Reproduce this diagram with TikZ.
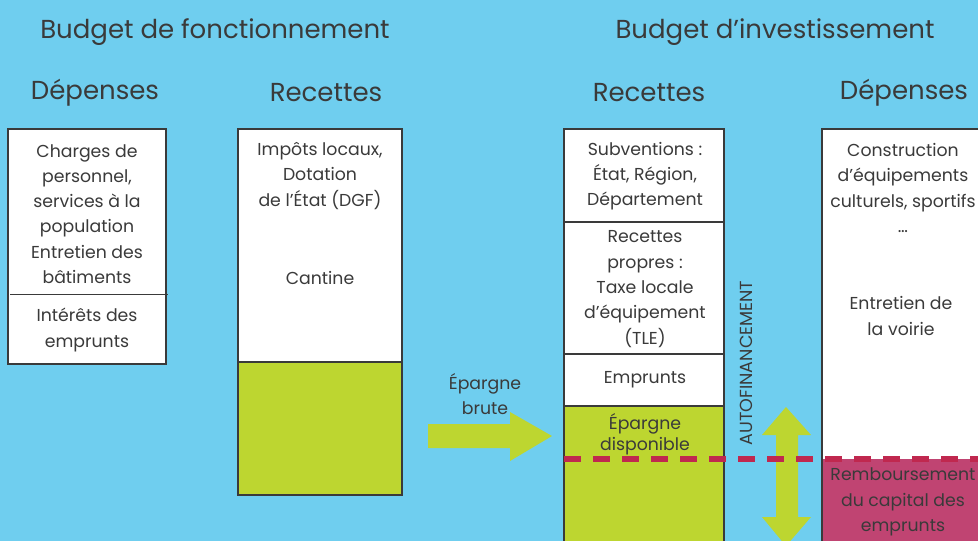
\documentclass[tikz,border=0pt]{standalone}
\usepackage{fontspec}
\setmainfont{Poppins}
\definecolor{ciel}{HTML}{6FCEEF}
\definecolor{vert}{HTML}{BDD630}
\definecolor{prune}{HTML}{C04472}
\definecolor{framboise}{HTML}{C0284F}
\definecolor{encre}{HTML}{3A3A3A}

\begin{document}
\begin{tikzpicture}[x=1pt, y=-1pt,
    txt/.style={align=center, text=encre, inner sep=0pt, font=\fontsize{17.3}{25.3}\selectfont},
    titre/.style={text=encre, inner sep=0pt, font=\fontsize{26}{30}\selectfont},
    boite/.style={draw=encre, line width=1.1pt}]
    \useasboundingbox (0,0) rectangle (978,541);
    \clip (0,0) rectangle (978,541);
    \fill[ciel] (0,0) rectangle (978,541);

    % titres
    \node[titre] (fonct) at (215,32) {Budget de fonctionnement};
    \node[titre] (invest) at (775,32) {Budget d’investissement};
    \node[titre] (dep1) at (95,93) {Dépenses};
    \node[titre] (rec1) at (326,93) {Recettes};
    \node[titre] (rec2) at (649,93) {Recettes};
    \node[titre] (dep2) at (904,93) {Dépenses};

    % fonctionnement : dépenses
    \fill[white] (8,129) rectangle (166,364);
    \draw[boite] (8,129) rectangle (166,364);
    \draw[encre, line width=1pt] (10,294) -- (168,294);
    \node[txt] (charges) at (87,214) {Charges de\\personnel,\\services à la\\population\\Entretien des\\bâtiments};
    \node[txt] (interets) at (87,330) {Intérêts des\\emprunts};

    % fonctionnement : recettes
    \fill[white] (238,129) rectangle (402,362);
    \fill[vert] (238,362) rectangle (402,495);
    \draw[boite] (238,129) rectangle (402,495);
    \draw[boite] (238,362) -- (402,362);
    \node[txt] (impots) at (320,176) {Impôts locaux,\\Dotation\\de l’État (DGF)};
    \node[txt] (cantine) at (320,278) {Cantine};

    % épargne brute
    \node[txt] (brute) at (485,394) {Épargne\\brute};
    \fill[vert] (428,424) -- (510,424) -- (510,412) -- (552,436) -- (510,461)
        -- (510,448) -- (428,448) -- cycle;

    % investissement : recettes
    \fill[white] (564,129) rectangle (724,406);
    \fill[vert] (564,406) rectangle (724,545);
    \draw[boite] (564,129) rectangle (724,545);
    \draw[boite] (564,222) -- (724,222);
    \draw[boite] (564,354) -- (724,354);
    \draw[boite] (564,406) -- (724,406);
    \node[txt] (subv) at (645,176) {Subventions :\\État, Région,\\Département};
    \node[txt] (propres) at (645,289) {Recettes\\propres :\\Taxe locale\\d’équipement\\(TLE)};
    \node[txt] (emprunts) at (645,380) {Emprunts};
    \node[txt, font=\fontsize{17.3}{21}\selectfont] (dispo) at (645,434) {Épargne\\disponible};

    % autofinancement
    \node[txt, rotate=90, font=\fontsize{17.5}{18}\selectfont] (auto) at (746,363) {AUTOFINANCEMENT};
    \fill[vert] (786,407) -- (811,435) -- (798,435) -- (798,517) -- (811,517)
        -- (786,546) -- (762,517) -- (776,517) -- (776,435) -- (762,435) -- cycle;

    % investissement : dépenses
    \fill[white] (822,129) rectangle (985,459);
    \fill[prune] (822,459) rectangle (985,545);
    \draw[boite] (822,129) rectangle (985,545);
    \node[txt] (constr) at (903,188) {Construction\\d’équipements\\culturels, sportifs\\…};
    \node[txt] (voirie) at (901,316) {Entretien de\\la voirie};
    \node[txt] (rembours) at (903,502) {Remboursement\\du capital des\\emprunts};

    \draw[framboise, line width=5.5pt, dash pattern=on 17pt off 12pt] (564,459) -- (980,459);
\end{tikzpicture}
\end{document}
